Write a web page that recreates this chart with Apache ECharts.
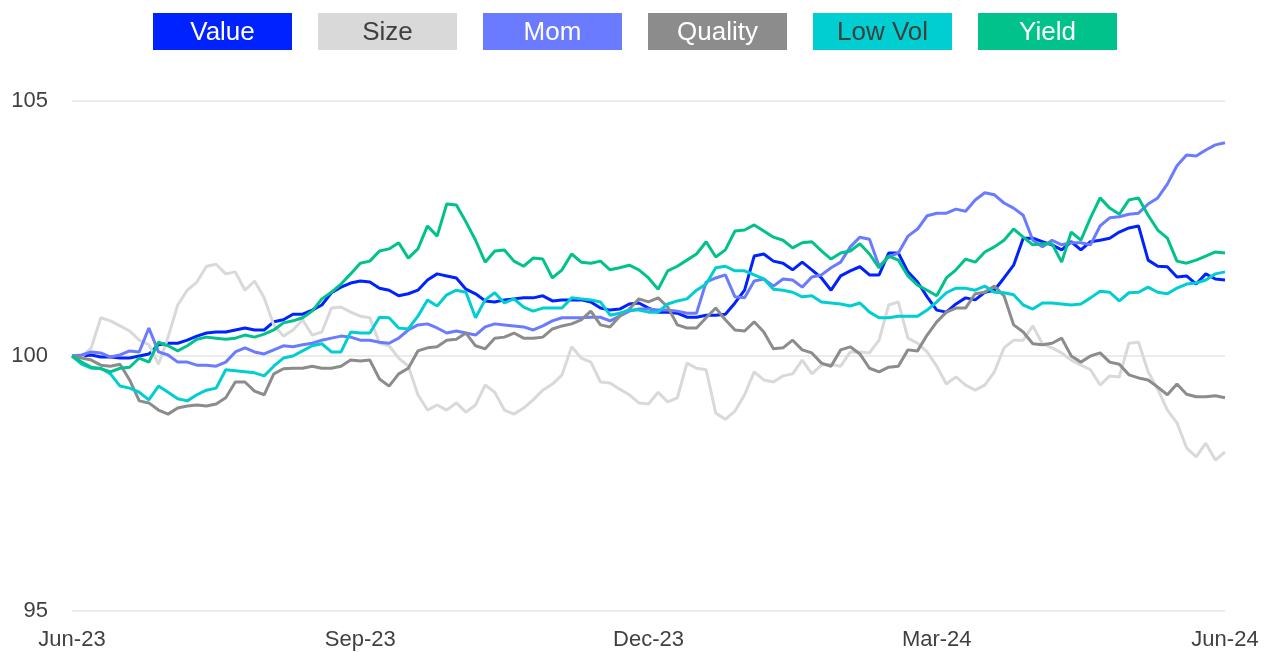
<!DOCTYPE html>
<html>
<head>
<meta charset="utf-8">
<title>Factor performance</title>
<script src="https://cdn.jsdelivr.net/npm/echarts@6/dist/echarts.min.js"></script>
<style>
  html, body { margin: 0; padding: 0; background: #ffffff; }
  #chart { width: 1274px; height: 652px; }
</style>
</head>
<body>
<div id="chart"></div>
<script>
// Cumulative factor index levels, rebased to 100 at the start (Jun-23 to Jun-24),
// one observation roughly every two trading days.
const xTickLabels = ['Jun-23', 'Sep-23', 'Dec-23', 'Mar-24', 'Jun-24'];
const yTicks = { min: 95, max: 105, step: 5 };

const seriesNames = ['Value', 'Size', 'Mom', 'Quality', 'Low Vol', 'Yield'];
const seriesColors = ['#0022FF', '#D9D9D9', '#6B7BFF', '#8C8C8C', '#00CED1', '#00C28A'];
const legendTextColors = ['#FFFFFF', '#404040', '#FFFFFF', '#FFFFFF', '#404040', '#FFFFFF'];

const value = [
  100.00,100.00,100.02,99.98,99.98,99.96,99.96,100.00,100.04,100.22,
  100.25,100.25,100.31,100.39,100.45,100.47,100.47,100.51,100.55,100.51,
  100.51,100.67,100.71,100.82,100.82,100.90,101.00,101.24,101.35,101.43,
  101.47,101.45,101.33,101.29,101.18,101.22,101.29,101.49,101.61,101.57,
  101.53,101.31,101.22,101.08,101.06,101.10,101.12,101.14,101.14,101.18,
  101.08,101.10,101.10,101.10,101.06,100.94,100.90,100.92,101.02,101.04,
  100.94,100.86,100.86,100.84,100.76,100.76,100.80,100.80,100.82,101.04,
  101.29,101.96,102.00,101.86,101.82,101.69,101.84,101.69,101.53,101.29,
  101.57,101.67,101.75,101.59,101.59,102.02,102.02,101.65,101.45,101.16,
  100.90,100.86,101.02,101.14,101.10,101.25,101.29,101.53,101.78,102.31,
  102.31,102.24,102.18,102.08,102.24,102.08,102.24,102.27,102.31,102.43,
  102.51,102.55,101.88,101.76,101.75,101.55,101.57,101.41,101.61,101.51,
  101.49
];

const size = [
  100.00,99.98,100.16,100.75,100.69,100.59,100.49,100.31,100.22,99.84,
  100.37,101.00,101.29,101.45,101.76,101.80,101.61,101.65,101.29,101.47,
  101.14,100.61,100.39,100.51,100.71,100.41,100.47,100.94,100.96,100.86,
  100.78,100.75,100.25,100.20,99.96,99.80,99.24,98.94,99.04,98.94,
  99.08,98.90,99.04,99.43,99.29,98.94,98.86,98.98,99.14,99.33,
  99.45,99.63,100.18,99.96,99.88,99.49,99.47,99.35,99.24,99.08,
  99.06,99.29,99.10,99.18,99.86,99.76,99.73,98.88,98.76,98.92,
  99.24,99.69,99.53,99.49,99.61,99.65,99.92,99.65,99.82,99.84,
  99.80,100.08,100.08,100.06,100.31,101.00,101.06,100.35,100.25,100.08,
  99.80,99.45,99.59,99.43,99.33,99.43,99.69,100.16,100.31,100.31,
  100.59,100.24,100.16,100.06,99.92,99.82,99.73,99.43,99.61,99.59,
  100.25,100.27,99.69,99.35,98.94,98.69,98.20,98.02,98.29,97.96,
  98.12
];

const mom = [
  100.00,100.02,100.08,100.06,99.98,100.02,100.10,100.08,100.55,100.08,
  100.02,99.88,99.88,99.82,99.82,99.80,99.88,100.08,100.16,100.08,
  100.04,100.12,100.20,100.18,100.22,100.25,100.31,100.35,100.39,100.37,
  100.31,100.31,100.27,100.25,100.35,100.51,100.61,100.63,100.55,100.45,
  100.49,100.45,100.41,100.57,100.63,100.61,100.59,100.57,100.51,100.59,
  100.69,100.75,100.75,100.75,100.76,100.76,100.69,100.78,100.88,100.92,
  100.92,100.90,100.90,100.88,100.84,100.84,101.45,101.53,101.59,101.16,
  101.14,101.47,101.51,101.37,101.51,101.49,101.35,101.55,101.59,101.73,
  101.84,102.14,102.33,102.29,101.76,101.94,102.02,102.35,102.49,102.75,
  102.80,102.80,102.88,102.84,103.06,103.20,103.16,103.00,102.90,102.76,
  102.27,102.14,102.27,102.18,102.22,102.22,102.18,102.55,102.71,102.73,
  102.78,102.80,102.98,103.10,103.37,103.73,103.94,103.92,104.04,104.14,
  104.18
];

const quality = [
  100.00,99.96,99.92,99.82,99.80,99.84,99.53,99.12,99.08,98.94,
  98.86,98.98,99.02,99.04,99.02,99.06,99.18,99.49,99.49,99.31,
  99.24,99.65,99.75,99.76,99.76,99.80,99.76,99.76,99.80,99.92,
  99.90,99.92,99.55,99.41,99.65,99.76,100.10,100.16,100.18,100.31,
  100.33,100.45,100.20,100.14,100.35,100.37,100.45,100.35,100.35,100.37,
  100.53,100.59,100.63,100.71,100.88,100.61,100.57,100.78,100.92,101.12,
  101.06,101.14,100.96,100.61,100.55,100.55,100.75,100.94,100.71,100.51,
  100.49,100.67,100.47,100.14,100.16,100.31,100.12,100.06,99.86,99.80,
  100.12,100.18,100.04,99.76,99.69,99.78,99.80,100.12,100.10,100.41,
  100.67,100.86,100.94,100.94,101.22,101.25,101.37,101.18,100.61,100.47,
  100.24,100.22,100.25,100.35,100.00,99.88,100.00,100.06,99.88,99.84,
  99.63,99.57,99.53,99.39,99.24,99.45,99.25,99.20,99.20,99.22,
  99.18
];

const lowVol = [
  100.00,99.84,99.76,99.76,99.65,99.41,99.37,99.29,99.14,99.41,
  99.29,99.16,99.12,99.24,99.33,99.37,99.73,99.71,99.69,99.67,
  99.61,99.80,99.96,100.00,100.10,100.20,100.24,100.08,100.08,100.47,
  100.45,100.45,100.76,100.75,100.55,100.53,100.78,101.10,100.98,101.20,
  101.29,101.25,100.75,101.10,101.24,101.04,101.12,100.96,100.88,100.94,
  100.94,100.94,101.14,101.12,101.10,101.06,100.80,100.84,100.90,100.90,
  100.86,100.86,101.02,101.08,101.12,101.29,101.41,101.73,101.76,101.67,
  101.67,101.59,101.51,101.31,101.29,101.25,101.16,101.18,101.06,101.04,
  101.02,100.98,101.04,100.86,100.75,100.75,100.78,100.78,100.78,100.90,
  101.06,101.24,101.33,101.33,101.29,101.37,101.25,101.24,101.20,101.00,
  100.92,101.04,101.04,101.02,101.00,101.02,101.14,101.27,101.25,101.08,
  101.24,101.25,101.35,101.25,101.22,101.33,101.41,101.43,101.49,101.61,
  101.65
];

const yieldF = [
  100.00,99.88,99.78,99.75,99.69,99.76,99.78,99.96,99.88,100.27,
  100.20,100.10,100.20,100.33,100.37,100.35,100.33,100.35,100.41,100.37,
  100.43,100.51,100.65,100.69,100.75,100.88,101.12,101.25,101.41,101.61,
  101.82,101.86,102.06,102.10,102.22,101.92,102.10,102.55,102.35,102.98,
  102.96,102.63,102.27,101.84,102.06,102.08,101.86,101.76,101.92,101.90,
  101.53,101.69,102.00,101.84,101.82,101.86,101.69,101.73,101.78,101.69,
  101.53,101.31,101.67,101.76,101.88,102.00,102.24,101.94,102.08,102.45,
  102.47,102.57,102.45,102.33,102.27,102.12,102.22,102.24,102.06,101.90,
  102.02,102.06,102.20,102.00,101.73,101.96,101.88,101.57,101.39,101.29,
  101.18,101.53,101.69,101.90,101.84,102.04,102.14,102.27,102.49,102.33,
  102.18,102.20,102.20,101.84,102.43,102.27,102.71,103.10,102.90,102.78,
  103.06,103.10,102.76,102.47,102.31,101.86,101.82,101.88,101.96,102.04,
  102.02
];

const seriesValues = [value, size, mom, quality, lowVol, yieldF];
const lastIndex = value.length - 1;
const tickStep = lastIndex / (xTickLabels.length - 1);

const FONT = '"Liberation Sans", Arial, "DejaVu Sans", sans-serif';

const richKey = n => n.replace(/\s+/g, '');
const legendRich = {};
seriesNames.forEach((n, k) => {
  legendRich[richKey(n)] = {
    width: 139,
    height: 34,
    lineHeight: 34,
    padding: [3, 0, 0, 0],
    align: 'center',
    fontSize: 26,
    fontFamily: FONT,
    color: legendTextColors[k],
    backgroundColor: seriesColors[k]
  };
});

const chart = echarts.init(document.getElementById('chart'), null, { renderer: 'canvas' });

chart.setOption({
  animation: false,
  backgroundColor: '#ffffff',
  color: seriesColors,
  legend: {
    top: 13,
    left: 148,
    itemWidth: 0,
    itemHeight: 0,
    itemGap: 21,
    icon: 'rect',
    selectedMode: false,
    padding: 0,
    data: seriesNames,
    formatter: name => `{${richKey(name)}|${name}}`,
    textStyle: { rich: legendRich, padding: 0 }
  },
  grid: { left: 72, right: 49, top: 101, bottom: 41 },
  xAxis: {
    type: 'value',
    min: 0,
    max: lastIndex,
    interval: tickStep,
    axisLine: { show: false },
    axisTick: { show: false },
    splitLine: { show: false },
    axisLabel: {
      margin: 18,
      color: '#404040',
      fontSize: 22,
      fontFamily: FONT,
      showMinLabel: true,
      showMaxLabel: true,
      formatter: v => xTickLabels[Math.round(v / tickStep)] || ''
    }
  },
  yAxis: {
    type: 'value',
    min: yTicks.min,
    max: yTicks.max,
    interval: yTicks.step,
    axisLine: { show: false },
    axisTick: { show: false },
    splitLine: { lineStyle: { color: '#E6E6E6', width: 1.5 } },
    axisLabel: {
      margin: 24,
      color: '#404040',
      fontSize: 22,
      fontFamily: FONT
    }
  },
  series: seriesNames.map((n, k) => ({
    name: n,
    type: 'line',
    showSymbol: false,
    symbol: 'none',
    smooth: false,
    lineStyle: { width: 3, color: seriesColors[k] },
    itemStyle: { color: seriesColors[k] },
    emphasis: { disabled: true },
    data: seriesValues[k].map((v, i) => [i, v])
  }))
});
</script>
</body>
</html>
